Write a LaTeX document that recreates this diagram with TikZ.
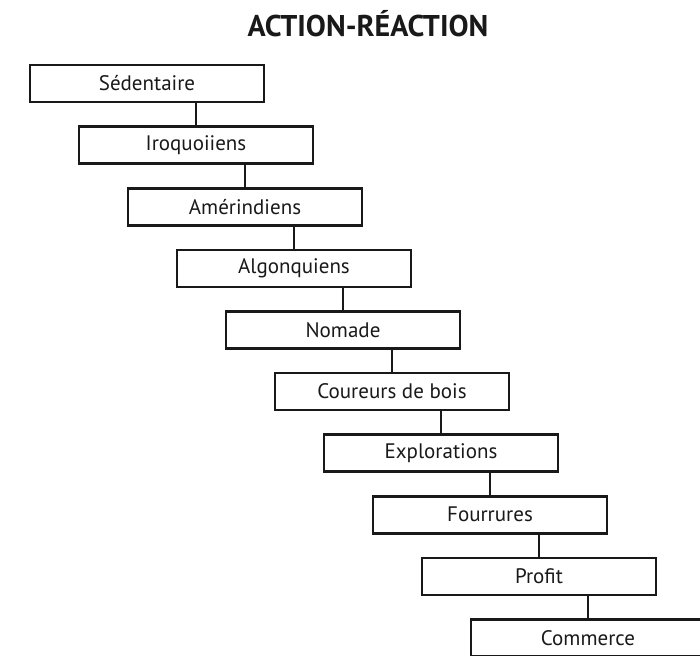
\documentclass[tikz,border=0pt]{standalone}
\usepackage{fontspec}
\setmainfont{PT Sans}
\usetikzlibrary{positioning}

\begin{document}
\begin{tikzpicture}[x=1pt, y=1pt,
                    stepbox/.style={draw=black!90, line width=2.6pt,
                    minimum width=234pt, minimum height=37pt, inner sep=0pt,
                    outer sep=0pt, font=\fontsize{21}{24}\selectfont, text=black!90},
                    link/.style={draw=black!90, line width=2.6pt},
                    heading/.style={font=\bfseries\fontsize{30}{34}\selectfont, text=black!90},
                ]
                \useasboundingbox (0,0) rectangle (700,-655);
                \node[heading] (title) at (368,-24) {ACTION-RÉACTION};
                \node[stepbox, anchor=north west] (sedentaire) at (30,-65) {Sédentaire};
                \node[stepbox, below=24.6pt of sedentaire.south west, anchor=north west, xshift=49pt] (iroquoiiens) {Iroquoiiens};
                \node[stepbox, below=24.6pt of iroquoiiens.south west, anchor=north west, xshift=49pt] (amerindiens) {Amérindiens};
                \node[stepbox, below=24.6pt of amerindiens.south west, anchor=north west, xshift=49pt] (algonquiens) {Algonquiens};
                \node[stepbox, below=24.6pt of algonquiens.south west, anchor=north west, xshift=49pt] (nomade) {Nomade};
                \node[stepbox, below=24.6pt of nomade.south west, anchor=north west, xshift=49pt] (coureurs) {Coureurs de bois};
                \node[stepbox, below=24.6pt of coureurs.south west, anchor=north west, xshift=49pt] (explorations) {Explorations};
                \node[stepbox, below=24.6pt of explorations.south west, anchor=north west, xshift=49pt] (fourrures) {Fourrures};
                \node[stepbox, below=24.6pt of fourrures.south west, anchor=north west, xshift=49pt] (profit) {Profit};
                \node[stepbox, below=24.6pt of profit.south west, anchor=north west, xshift=49pt] (commerce) {Commerce};

                \draw[link] (iroquoiiens.north) -- (iroquoiiens.north |- sedentaire.south);
                \draw[link] (amerindiens.north) -- (amerindiens.north |- iroquoiiens.south);
                \draw[link] (algonquiens.north) -- (algonquiens.north |- amerindiens.south);
                \draw[link] (nomade.north) -- (nomade.north |- algonquiens.south);
                \draw[link] (coureurs.north) -- (coureurs.north |- nomade.south);
                \draw[link] (explorations.north) -- (explorations.north |- coureurs.south);
                \draw[link] (fourrures.north) -- (fourrures.north |- explorations.south);
                \draw[link] (profit.north) -- (profit.north |- fourrures.south);
                \draw[link] (commerce.north) -- (commerce.north |- profit.south);
            \end{tikzpicture}
\end{document}
